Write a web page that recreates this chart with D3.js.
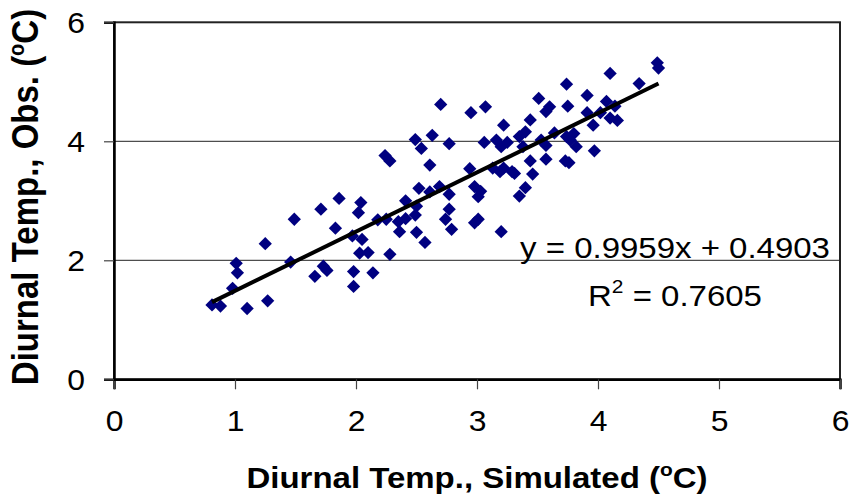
<!DOCTYPE html>
<html>
<head>
<meta charset="utf-8">
<script src="https://cdn.jsdelivr.net/npm/d3@7"></script>
<style>
  body { margin: 0; background: #fff; }
  text { font-family: "Liberation Sans", Arial, sans-serif; fill: #000; }
</style>
</head>
<body>
<div id="chart"></div>
<script>
const simX = [0.81,0.88,0.98,1.01,1.02,1.10,1.25,1.27,1.49,1.46,
  1.66,1.71,1.73,1.76,1.83,1.86,1.98,1.98,1.97,2.04,
  2.02,2.05,2.03,2.10,2.14,2.18,2.25,2.28,2.35,2.36,
  2.41,2.41,2.49,2.50,2.50,2.57,2.52,2.61,2.69,2.77,
  2.77,2.74,2.79,2.98,3.01,2.98,3.03,3.01,2.70,2.95,
  2.49,2.63,2.54,2.77,2.24,2.28,2.61,2.94,4.49,4.50,
  4.10,4.34,3.74,3.51,3.91,3.60,3.57,3.75,3.07,4.07,
  4.14,3.91,4.02,4.10,4.16,3.96,3.22,3.44,3.35,3.40,
  3.06,3.16,3.20,3.25,3.53,3.57,3.64,3.74,3.80,3.82,
  3.77,3.97,3.38,3.44,3.57,3.73,3.76,3.13,3.19,3.22,
  3.29,3.31,3.46,3.40,3.35,3.20];
const obsY = [1.25,1.23,1.53,1.95,1.79,1.19,2.28,1.32,2.69,1.97,
  1.73,2.86,1.90,1.83,2.54,3.04,1.81,1.56,2.41,2.97,
  2.80,2.35,2.12,2.13,1.79,2.68,2.69,2.10,2.65,2.48,
  3.00,2.70,2.76,2.91,2.47,2.30,3.21,3.15,3.24,3.11,
  2.86,2.69,2.52,2.63,2.69,3.24,3.16,3.07,4.62,4.48,
  4.03,4.10,3.88,3.96,3.76,3.67,3.60,3.54,5.32,5.23,
  5.14,4.97,4.96,4.72,4.77,4.58,4.50,4.59,4.58,4.67,
  4.59,4.48,4.48,4.39,4.35,4.27,4.27,4.36,4.08,4.16,
  3.98,4.02,3.91,3.98,4.02,3.93,4.14,4.08,4.13,3.91,
  4.02,3.84,3.91,3.67,3.70,3.67,3.64,3.55,3.49,3.55,
  3.49,3.46,3.45,3.22,3.08,2.48];
const xTicks = [0, 1, 2, 3, 4, 5, 6];
const yTicks = [0, 2, 4, 6];
const slope = 0.9959;
const intercept = 0.4903;
const r2 = "0.7605";

const width = 853, height = 495;
const plotL = 114, plotR = 840, plotT = 22.3, plotB = 379.3;
const stretch = 1.1; // text in the original is a bit wide

const svg = d3.select("#chart").append("svg")
  .attr("width", width)
  .attr("height", height);

const x = d3.scaleLinear().domain([0, 6]).range([plotL, plotR]);
const y = d3.scaleLinear().domain([0, 6]).range([plotB, plotT]);

// gridlines
svg.append("g")
  .selectAll("line")
  .data(yTicks.filter(d => d > 0 && d < 6))
  .enter().append("line")
  .attr("x1", plotL).attr("x2", plotR)
  .attr("y1", d => y(d)).attr("y2", d => y(d))
  .attr("stroke", "#222").attr("stroke-width", 1);

// plot frame
svg.append("rect")
  .attr("x", plotL).attr("y", plotT)
  .attr("width", plotR - plotL).attr("height", plotB - plotT)
  .attr("fill", "none").attr("stroke", "#222").attr("stroke-width", 2);

// axes
const xAxis = svg.append("g")
  .attr("transform", `translate(0,${plotB})`)
  .call(d3.axisBottom(x).tickValues(xTicks).tickSize(10).tickFormat(d3.format("d")));
const yAxis = svg.append("g")
  .attr("transform", `translate(${plotL},0)`)
  .call(d3.axisLeft(y).tickValues(yTicks).tickSize(10).tickFormat(d3.format("d")));

[xAxis, yAxis].forEach(g => {
  g.select(".domain").attr("stroke", "#000").attr("stroke-width", 2.5);
  g.selectAll(".tick line").attr("stroke", "#444").attr("stroke-width", 1.2);
  g.selectAll(".tick text")
    .attr("font-size", 29)
    .attr("font-family", "'Liberation Sans', Arial, sans-serif")
    .attr("fill", "#000");
});
xAxis.selectAll(".tick text").attr("dy", null).attr("y", 0)
  .attr("transform", `translate(0,52) scale(${stretch},1)`);
yAxis.selectAll(".tick text").attr("x", 0).attr("dy", "0.35em")
  .attr("transform", `translate(-29,0) scale(${stretch},1)`);

// markers
const diamond = d3.symbol().type(d3.symbolSquare).size(88);
svg.append("g")
  .selectAll("path")
  .data(simX.map((v, i) => [v, obsY[i]]))
  .enter().append("path")
  .attr("d", diamond)
  .attr("transform", d => `translate(${x(d[0])},${y(d[1])}) rotate(45)`)
  .attr("fill", "#000080");

// trend line
const xr = d3.extent(simX);
svg.append("line")
  .attr("x1", x(xr[0])).attr("y1", y(slope * xr[0] + intercept))
  .attr("x2", x(xr[1])).attr("y2", y(slope * xr[1] + intercept))
  .attr("stroke", "#000").attr("stroke-width", 4);

// equation labels
svg.append("text")
  .attr("transform", `translate(675,258) scale(${stretch},1)`)
  .attr("text-anchor", "middle")
  .attr("font-size", 30)
  .text(`y = ${slope}x + ${intercept}`);
const rt = svg.append("text")
  .attr("transform", `translate(675,306) scale(${stretch},1)`)
  .attr("text-anchor", "middle")
  .attr("font-size", 30);
rt.append("tspan").text("R");
rt.append("tspan").attr("font-size", 19).attr("dy", -13).text("2");
rt.append("tspan").attr("dy", 13).text(` = ${r2}`);

// axis titles
const xt = svg.append("text")
  .attr("transform", `translate(477,488) scale(${stretch},1)`)
  .attr("text-anchor", "middle")
  .attr("font-size", 30).attr("font-weight", "bold");
xt.append("tspan").text("Diurnal Temp., Simulated (");
xt.append("tspan").attr("font-size", 19).attr("dy", -12).text("o");
xt.append("tspan").attr("dy", 12).text("C)");

const yt = svg.append("text")
  .attr("transform", `translate(38,197) scale(${stretch},1) rotate(-90)`)
  .attr("text-anchor", "middle")
  .attr("font-size", 33).attr("font-weight", "bold");
yt.append("tspan").text("Diurnal Temp., Obs. (");
yt.append("tspan").attr("font-size", 20).attr("dy", -13).text("o");
yt.append("tspan").attr("dy", 13).text("C)");
</script>
</body>
</html>
